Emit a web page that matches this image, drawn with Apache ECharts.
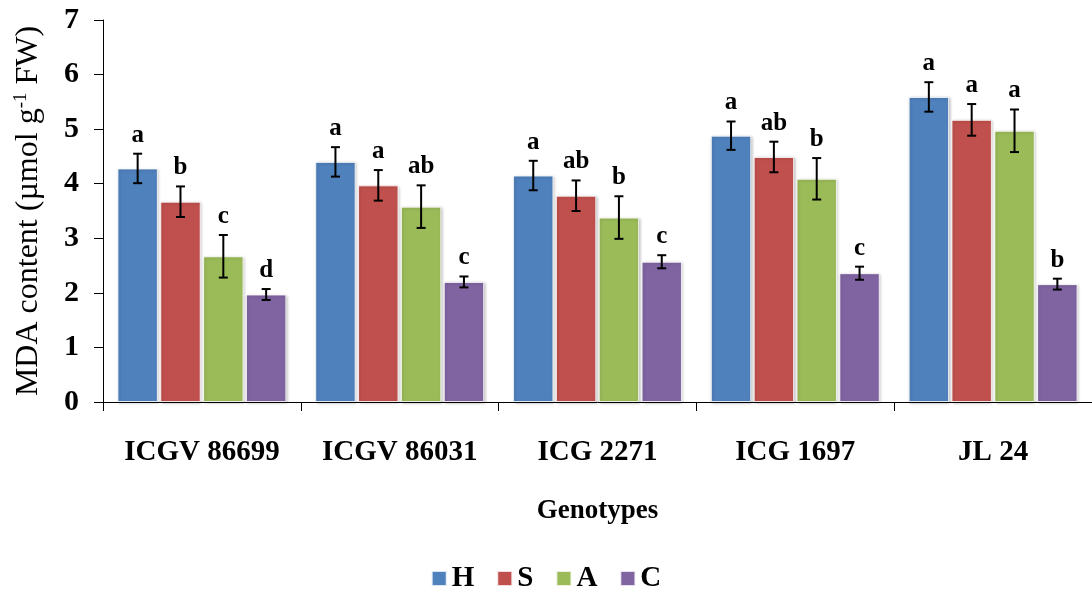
<!DOCTYPE html>
<html><head><meta charset="utf-8">
<script src="https://cdn.jsdelivr.net/npm/echarts@6/dist/echarts.min.js"></script>
<style>html,body{margin:0;padding:0;background:#fff}#c{width:1092px;height:600px}</style>
</head><body><div id="c"></div>
<script>
const categories = ['ICGV 86699', 'ICGV 86031', 'ICG 2271', 'ICG 1697', 'JL 24'];
const seriesNames = ['H', 'S', 'A', 'C'];
const H = [4.28, 4.40, 4.15, 4.88, 5.59];
const S = [3.67, 3.97, 3.78, 4.49, 5.17];
const A = [2.67, 3.58, 3.38, 4.09, 4.97];
const C = [1.97, 2.20, 2.57, 2.36, 2.16];
const H_err = [0.27, 0.27, 0.27, 0.26, 0.27];
const S_err = [0.28, 0.28, 0.28, 0.28, 0.29];
const A_err = [0.39, 0.39, 0.39, 0.38, 0.39];
const C_err = [0.10, 0.10, 0.12, 0.12, 0.10];
const H_sig = ['a', 'a', 'a', 'a', 'a'];
const S_sig = ['b', 'a', 'ab', 'ab', 'a'];
const A_sig = ['c', 'ab', 'b', 'b', 'a'];
const C_sig = ['d', 'c', 'c', 'c', 'b'];
const yTicks = [0, 1, 2, 3, 4, 5, 6, 7];

const values = [H, S, A, C];
const errs = [H_err, S_err, A_err, C_err];
const sigs = [H_sig, S_sig, A_sig, C_sig];
const colors = ['#4F81BD', '#C0504D', '#9BBB59', '#8064A2'];
const catGap = 0.146, barGapFrac = 0.06;
const serif = '"Liberation Serif", "DejaVu Serif", serif';

const chart = echarts.init(document.getElementById('c'));
const series = [];
values.forEach((vals, i) => {
  series.push({
    name: seriesNames[i], type: 'bar', data: vals,
    barCategoryGap: (catGap * 100) + '%', barGap: (barGapFrac * 100) + '%',
    itemStyle: { color: colors[i], borderColor: 'rgba(255,255,255,0.8)', borderWidth: 1,
      shadowColor: 'rgba(0,0,0,0.25)', shadowBlur: 3, shadowOffsetX: 1, shadowOffsetY: 1 }
  });
});
values.forEach((vals, i) => {
  series.push({
    type: 'custom', silent: true, z: 10,
    data: vals.map((v, k) => [k, v, errs[i][k], sigs[i][k]]),
    renderItem: function (params, api) {
      const k = api.value(0), v = api.value(1), e = api.value(2), lab = api.value(3);
      const band = api.size([1, 0])[0];
      const bw = band * (1 - catGap) / (4 + 3 * barGapFrac);
      const off = (i - 1.5) * bw * (1 + barGapFrac);
      const top = api.coord([k, v + e]);
      const bot = api.coord([k, v - e]);
      const x = top[0] + off;
      const cap = 4.5;
      const st = { stroke: '#000', lineWidth: 2 };
      return { type: 'group', children: [
        { type: 'line', shape: { x1: x, y1: top[1], x2: x, y2: bot[1] }, style: st },
        { type: 'line', shape: { x1: x - cap, y1: top[1], x2: x + cap, y2: top[1] }, style: st },
        { type: 'line', shape: { x1: x - cap, y1: bot[1], x2: x + cap, y2: bot[1] }, style: st },
        { type: 'text', x: x, y: top[1] - 6, style: { text: lab, fill: '#000',
          font: 'bold 25px ' + serif, align: 'center', verticalAlign: 'bottom' } }
      ] };
    }
  });
});

chart.setOption({
  animation: false,
  color: colors,
  grid: { left: 103, right: -3, top: 20, bottom: 198 },
  legend: {
    data: seriesNames, bottom: 2, left: 'center', itemWidth: 15, itemHeight: 15, itemGap: 22,
    icon: 'rect',
    textStyle: { fontFamily: serif, fontWeight: 'bold', fontSize: 29, color: '#000' }
  },
  xAxis: {
    type: 'category', data: categories,
    name: 'Genotypes', nameLocation: 'middle', nameGap: 96,
    nameTextStyle: { fontFamily: serif, fontWeight: 'bold', fontSize: 27, color: '#000' },
    axisLine: { lineStyle: { color: '#000', width: 1 } },
    axisTick: { show: true, length: 9, interval: 0, alignWithLabel: false, lineStyle: { color: '#000' } },
    axisLabel: { interval: 0, hideOverlap: false, margin: 36, fontFamily: serif, fontWeight: 'bold', fontSize: 29, color: '#000' },
    splitLine: { show: false }
  },
  yAxis: {
    type: 'value', min: 0, max: 7, interval: 1,
    name: '{n|MDA content (µmol g}{s|-1}{n| FW)}', nameLocation: 'middle', nameGap: 58, nameRotate: 90,
    nameTextStyle: { rich: {
      n: { fontFamily: serif, fontSize: 32, color: '#000' },
      s: { fontFamily: serif, fontSize: 19, color: '#000', verticalAlign: 'top', padding: [0, 0, 14, 0] }
    } },
    axisLine: { show: true, lineStyle: { color: '#000', width: 1 } },
    axisTick: { show: true, length: 9, lineStyle: { color: '#000' } },
    axisLabel: { margin: 24, fontFamily: serif, fontWeight: 'bold', fontSize: 30, color: '#000',
      formatter: v => yTicks.includes(v) ? String(v) : '' },
    splitLine: { show: false }
  },
  series: series
});
</script></body></html>
